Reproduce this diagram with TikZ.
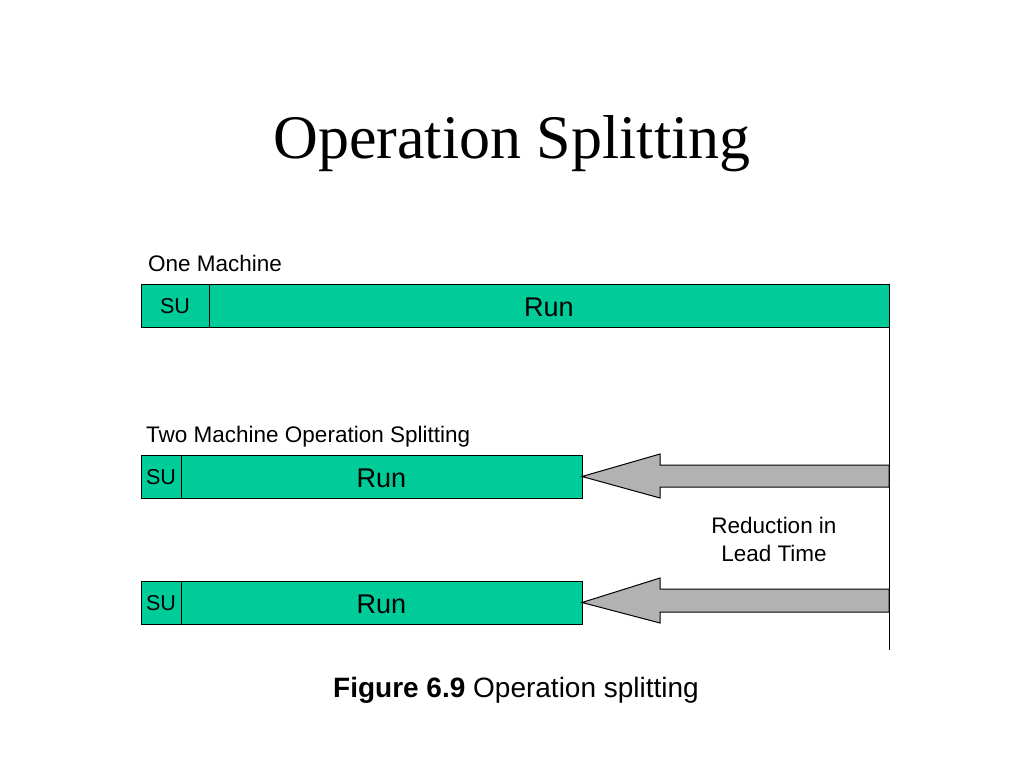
\documentclass[tikz,border=0pt]{standalone}
\usepackage{fontspec}
\setmainfont{Liberation Sans}
\newfontfamily\titlefont{Liberation Serif}
\usetikzlibrary{positioning}
\definecolor{rungreen}{HTML}{00CC99}
\definecolor{arrowgray}{HTML}{B2B2B2}

\begin{document}
\begin{tikzpicture}[x=1pt, y=-1pt,
		seg/.style={draw, fill=rungreen, line width=1pt, inner sep=0pt, outer sep=0pt, minimum height=43pt},
		sulabel/.style={seg, text height=17pt, font=\fontsize{21.5}{24}\selectfont},
		runlabel/.style={seg, text height=21.5pt, font=\fontsize{27}{30}\selectfont},
		caption/.style={font=\fontsize{22.5}{28}\selectfont, inner sep=0pt},
		splitarrow/.style={draw, fill=arrowgray, line width=1pt, line join=miter}]
	\useasboundingbox (0,0) rectangle (1024,768);
	\node[font=\titlefont\fontsize{62}{70}\selectfont, anchor=base, inner sep=0pt] (title) at (512,158) {Operation Splitting};

	% one machine
	\node[caption, anchor=base west] (lbl1) at (148,271) {One Machine};
	\node[sulabel, minimum width=68pt, anchor=north west] (su1) at (141,284) {SU};
	\node[runlabel, minimum width=680pt, right=0pt of su1] (run1) {Run};

	% two machines
	\node[caption, anchor=base west] (lbl2) at (146,442) {Two Machine Operation Splitting};
	\node[sulabel, minimum width=40pt, anchor=north west] (su2) at (141,455) {SU};
	\node[runlabel, minimum width=401pt, right=0pt of su2] (run2) {Run};
	\node[sulabel, minimum width=40pt, anchor=north west] (su3) at (141,581) {SU};
	\node[runlabel, minimum width=401pt, right=0pt of su3] (run3) {Run};

	\coordinate (lineend) at (889,650);
	\draw[line width=1pt] (run1.south east) -- (lineend);

	\draw[splitarrow] (run2.east) -- (660,454) -- (660,465) -- (889,465) -- (889,487) -- (660,487) -- (660,498) -- cycle;
	\draw[splitarrow] (run3.east) -- (660,578) -- (660,589) -- (889,589) -- (889,612) -- (660,612) -- (660,623) -- cycle;

	\node[caption, align=center] (gain) at (774,539) {Reduction in\\ Lead Time};

	\node[anchor=base, inner sep=0pt, font=\fontsize{28}{32}\selectfont] (fig) at (516,697) {\textbf{Figure 6.9} Operation splitting};
\end{tikzpicture}
\end{document}
